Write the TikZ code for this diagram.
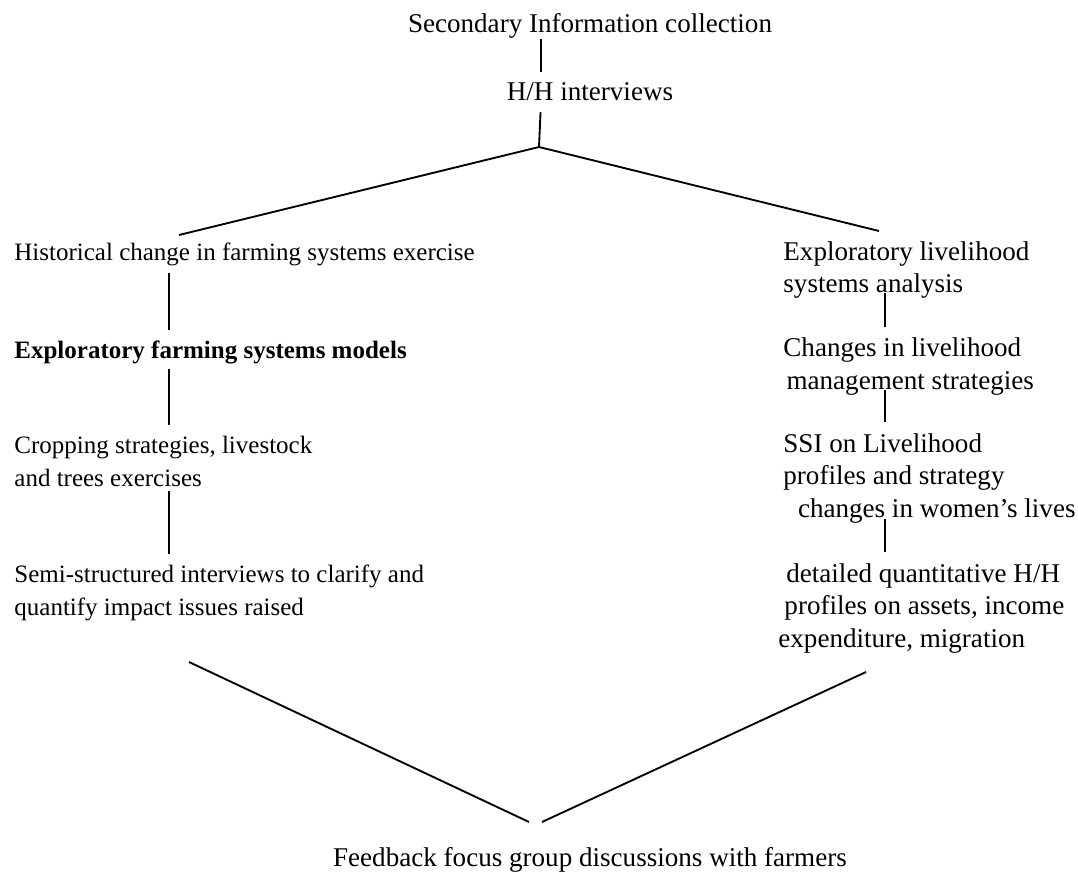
\documentclass[tikz,border=0pt]{standalone}
\usepackage{fontspec}
\setmainfont{Liberation Serif}
\usetikzlibrary{positioning}
\tikzset{
    %Define style for text blocks
    txt/.style={
           inner sep=0pt,
           align=left,
           anchor=base west,
           font=\fontsize{12}{15.6}\selectfont},
    bigtxt/.style={
           txt,
           font=\fontsize{13}{15.6}\selectfont},
    ctxt/.style={
           bigtxt,
           anchor=base,
           align=center},
    %Define style for lines
    lnk/.style={
           line width=0.9pt,
           shorten >=5pt}
}
\begin{document}
\begin{tikzpicture}[x=0.48pt,y=-0.48pt]
\useasboundingbox (0,0) rectangle (1078,872);
% top of the scheme
\node[ctxt](top) at (590,33) {Secondary Information collection};
\node[ctxt](hh) at (590,101) {H/H interviews};
% left column
\node[txt](hist) at (14,261) {Historical change in farming systems exercise};
\node[txt,font=\fontsize{12}{15.6}\selectfont\bfseries](model) at (14,358) {Exploratory farming systems models};
\node[txt](crop) at (14,486) {Cropping strategies, livestock\\and trees exercises};
\node[txt](semi) at (14,615) {Semi-structured interviews to clarify and\\quantify impact issues raised};
% right column
\node[bigtxt](expl) at (783,293) {Exploratory livelihood\\systems analysis};
\node[bigtxt](chg) at (783,389) {Changes in livelihood\\\hspace*{1.5pt}management strategies};
\node[bigtxt](ssi) at (783,517) {SSI on Livelihood\\profiles and strategy\\\hspace*{7pt}changes in women's lives};
\node[bigtxt](det) at (778,647) {\hspace*{3.8pt}detailed quantitative H/H\\\hspace*{2.9pt}profiles on assets, income\\expenditure, migration};
% bottom
\node[ctxt](feed) at (590,866) {Feedback focus group discussions with farmers};
\coordinate (tc) at (541,0);
\coordinate (lc) at (169,0);
\coordinate (rc) at (885,0);
\coordinate (fork) at (539,147);
\coordinate (forkl) at (179,235);
\coordinate (forkr) at (879,231);
\coordinate (vl) at (189,662);
\coordinate (vr) at (866,672);
\coordinate (vle) at (529,822);
\coordinate (vre) at (542,822);
\draw[lnk] (top.south -| tc) -- (hh.north -| tc);
\draw[lnk,shorten >=0pt,shorten <=5pt] (hh.south -| tc) -- (fork);
\draw[lnk,shorten >=0pt] (forkl) -- (fork) -- (forkr);
\draw[lnk,shorten <=3pt] (hist.south -| lc) -- (model.north -| lc);
\draw[lnk,shorten <=2.5pt] (model.south -| lc) -- (crop.north -| lc);
\draw[lnk,shorten <=2pt] (crop.south -| lc) -- (semi.north -| lc);
\draw[lnk,shorten <=-3pt] (expl.south -| rc) -- (chg.north -| rc);
\draw[lnk,shorten <=-2.5pt] (chg.south -| rc) -- (ssi.north -| rc);
\draw[lnk,shorten <=-2pt] (ssi.south -| rc) -- (det.north -| rc);
\draw[lnk,shorten >=0pt] (vl) -- (vle);
\draw[lnk,shorten >=0pt] (vr) -- (vre);
\end{tikzpicture}
\end{document}
